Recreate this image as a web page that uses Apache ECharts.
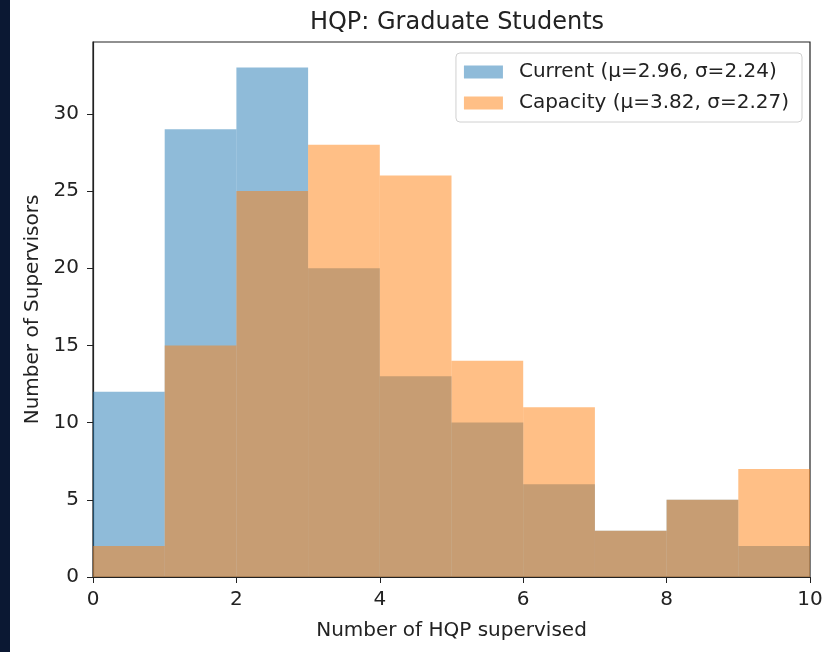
<!DOCTYPE html>
<html><head><meta charset="utf-8">
<script src="https://cdn.jsdelivr.net/npm/echarts@6/dist/echarts.min.js"></script>
<style>html,body{margin:0;padding:0;background:#fff;}#wrap{position:relative;width:827px;height:652px;}
#band{position:absolute;left:0;top:0;width:10px;height:652px;background:#0b1833;}
#c{position:absolute;left:0;top:0;width:827px;height:652px;}</style>
</head><body><div id="wrap"><div id="c"></div><div id="band"></div></div>
<script>
const bins = ['0-1','1-2','2-3','3-4','4-5','5-6','6-7','7-8','8-9','9-10'];
const currentCounts = [12, 29, 33, 20, 13, 10, 6, 3, 5, 2];
const capacityCounts = [2, 15, 25, 28, 26, 14, 11, 3, 5, 7];
const currentName = 'Current (μ=2.96, σ=2.24)';
const capacityName = 'Capacity (μ=3.82, σ=2.27)';
const chart = echarts.init(document.getElementById('c'), null, {renderer:'canvas'});
const font = 'DejaVu Sans';
chart.setOption({
  animation:false,
  title:{text:'HQP: Graduate Students', left:452, top:6, textAlign:'center',
    textStyle:{fontFamily:font, fontSize:24, fontWeight:'normal', color:'#222'}},
  legend:{top:53, right:25, orient:'vertical', itemWidth:39, itemHeight:13, itemGap:11,
    padding:[9,13,9,8], borderColor:'#d0d0d0', borderWidth:1, borderRadius:4,
    textStyle:{fontFamily:font, fontSize:20, color:'#222', padding:[0,0,0,11]},
    data:[{name:currentName, icon:'rect'},{name:capacityName, icon:'rect'}]},
  grid:{left:93, right:17, top:42, bottom:75, show:true, borderColor:'#222', borderWidth:1.2, backgroundColor:'transparent'},
  xAxis:[
    {type:'category', data:bins, boundaryGap:true, show:false},
    {type:'value', min:0, max:10, interval:2, position:'bottom',
      name:'Number of HQP supervised', nameLocation:'middle', nameGap:44,
      nameTextStyle:{fontFamily:font, fontSize:20, color:'#222'},
      axisLine:{show:true, lineStyle:{color:'#222', width:1.2}},
      axisTick:{show:true, length:6, inside:false, lineStyle:{color:'#222'}},
      axisLabel:{fontFamily:font, fontSize:20, color:'#222', margin:13},
      splitLine:{show:false}}
  ],
  yAxis:{type:'value', min:0, max:34.65, interval:5,
    name:'Number of Supervisors', nameLocation:'middle', nameGap:50, nameRotate:90,
    nameTextStyle:{fontFamily:font, fontSize:20, color:'#222'},
    axisLine:{show:true, lineStyle:{color:'#222', width:1.2}},
    axisTick:{show:true, length:6, lineStyle:{color:'#222'}},
    axisLabel:{fontFamily:font, fontSize:20, color:'#222', margin:14, showMaxLabel:false},
    splitLine:{show:false}},
  series:[
    {name:currentName, type:'bar', xAxisIndex:0, data:currentCounts, barWidth:'100%', barGap:'-100%',
      itemStyle:{color:'#1f77b4', opacity:0.5}},
    {name:capacityName, type:'bar', xAxisIndex:0, data:capacityCounts, barWidth:'100%', barGap:'-100%',
      itemStyle:{color:'#ff7f0e', opacity:0.5}}
  ]
});
</script></body></html>
